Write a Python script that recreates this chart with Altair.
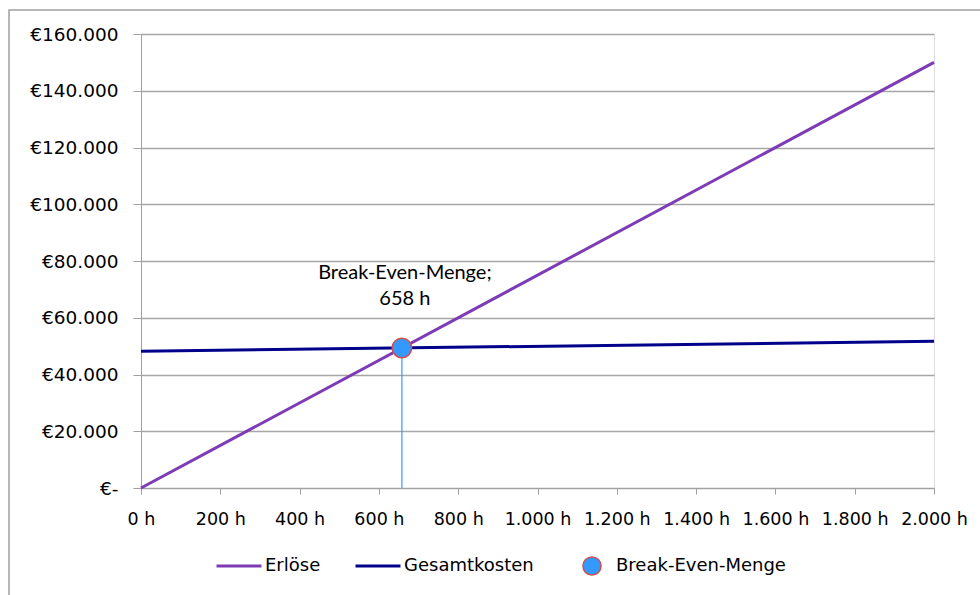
import altair as alt
import pandas as pd

# ---- data ----
stunden = [0, 2000]
erloese = [0, 150000]
gesamtkosten = [48200, 51700]
serien_linien = ["Erlöse", "Gesamtkosten"]
farben_linien = ["#7D3CB5", "#00008B"]
serie_punkt = ["Break-Even-Menge"]
farbe_punkt = ["#3399FF"]
be_menge = [658]
be_wert = [49350]
x_ticks = list(range(0, 2001, 200))
y_ticks = list(range(0, 160001, 20000))

lines = pd.DataFrame({
    "Stunden": stunden + stunden,
    "Wert": erloese + gesamtkosten,
    "Serie": [serien_linien[0]] * 2 + [serien_linien[1]] * 2,
})
be = pd.DataFrame({
    "Stunden": be_menge,
    "Wert": be_wert,
    "Null": [0],
    "Serie": serie_punkt,
    "Label": [f"Break-Even-Menge;\n{be_menge[0]} h"],
})

FONT_AX = "DejaVu Sans"
FONT_TX = "Lato"

xscale = alt.Scale(domain=[0, 2000], nice=False, zero=True)
yscale = alt.Scale(domain=[0, 160000], nice=False)

xaxis = alt.Axis(
    values=x_ticks, title=None, grid=False,
    labelExpr="replace(format(datum.value, ','), ',', '.') + ' h'",
    tickSize=6, labelPadding=16, labelFont=FONT_AX, labelFontSize=17.5,
    labelColor="#000000", domainColor="#A0A0A0", tickColor="#A0A0A0",
    labelFlush=False, labelOverlap=False,
)
yaxis = alt.Axis(
    values=y_ticks, title=None, grid=True, gridColor="#A6A6A6", gridWidth=1.5,
    labelExpr="datum.value == 0 ? '€-' : '€' + replace(format(datum.value, ','), ',', '.')",
    tickSize=8, labelPadding=15, labelFont=FONT_AX, labelFontSize=18.5,
    labelColor="#000000", domainColor="#A0A0A0", tickColor="#A0A0A0",
    labelOverlap=False,
)

legend_linien = alt.Legend(
    title=None, orient="none", legendX=74, legendY=508, direction="horizontal",
    labelFont=FONT_AX, labelFontSize=18, labelColor="#000000", labelLimit=400,
    symbolType="stroke", symbolSize=2025, symbolStrokeWidth=3,
    labelOffset=2, columnPadding=28,
)
legend_punkt = alt.Legend(
    title=None, orient="none", legendX=441, legendY=522, direction="horizontal",
    labelFont=FONT_AX, labelFontSize=18, labelColor="#000000", labelLimit=400,
    symbolType="circle", symbolSize=330, symbolStrokeWidth=1.5,
    symbolStrokeColor="#D05050", labelOffset=14,
)

border = alt.Chart(pd.DataFrame({"k": [0]})).mark_rect(
    fill=None, stroke="#A0A0A0", strokeWidth=1.5
).encode(
    x=alt.value(-132), x2=alt.value(900), y=alt.value(-24), y2=alt.value(640)
)

line_layer = alt.Chart(lines).mark_line(strokeWidth=3).encode(
    x=alt.X("Stunden:Q", scale=xscale, axis=xaxis),
    y=alt.Y("Wert:Q", scale=yscale, axis=yaxis),
    stroke=alt.Stroke("Serie:N", scale=alt.Scale(domain=serien_linien, range=farben_linien),
                      legend=legend_linien, sort=serien_linien),
    detail="Serie:N",
)

drop = alt.Chart(be).mark_rule(color="#3399FF", strokeWidth=1.2).encode(
    x="Stunden:Q", y="Null:Q", y2="Wert:Q"
)

point = alt.Chart(be).mark_point(
    filled=True, opacity=1, size=380, shape="circle", strokeWidth=1.5
).encode(
    x="Stunden:Q", y="Wert:Q",
    fill=alt.Fill("Serie:N", scale=alt.Scale(domain=serie_punkt, range=farbe_punkt),
                  legend=legend_punkt),
    stroke=alt.value("#D05050"),
)

label = alt.Chart(be).mark_text(
    font=FONT_TX, fontSize=20, lineBreak="\n", lineHeight=26,
    baseline="bottom", align="center", dy=-65, dx=3, color="#000000"
).encode(x="Stunden:Q", y="Wert:Q", text="Label:N")

chart = alt.layer(border, line_layer, drop, point, label).resolve_scale(
    stroke="independent", fill="independent"
).properties(
    width=793, height=454,
    autosize=alt.AutoSizeParams(type="none"),
    padding={"left": 141, "top": 34, "right": 46, "bottom": 107},
).configure_view(stroke=None).configure(background="#FFFFFF")

chart.save("out.html", embed_options={"renderer": "svg", "actions": False})
